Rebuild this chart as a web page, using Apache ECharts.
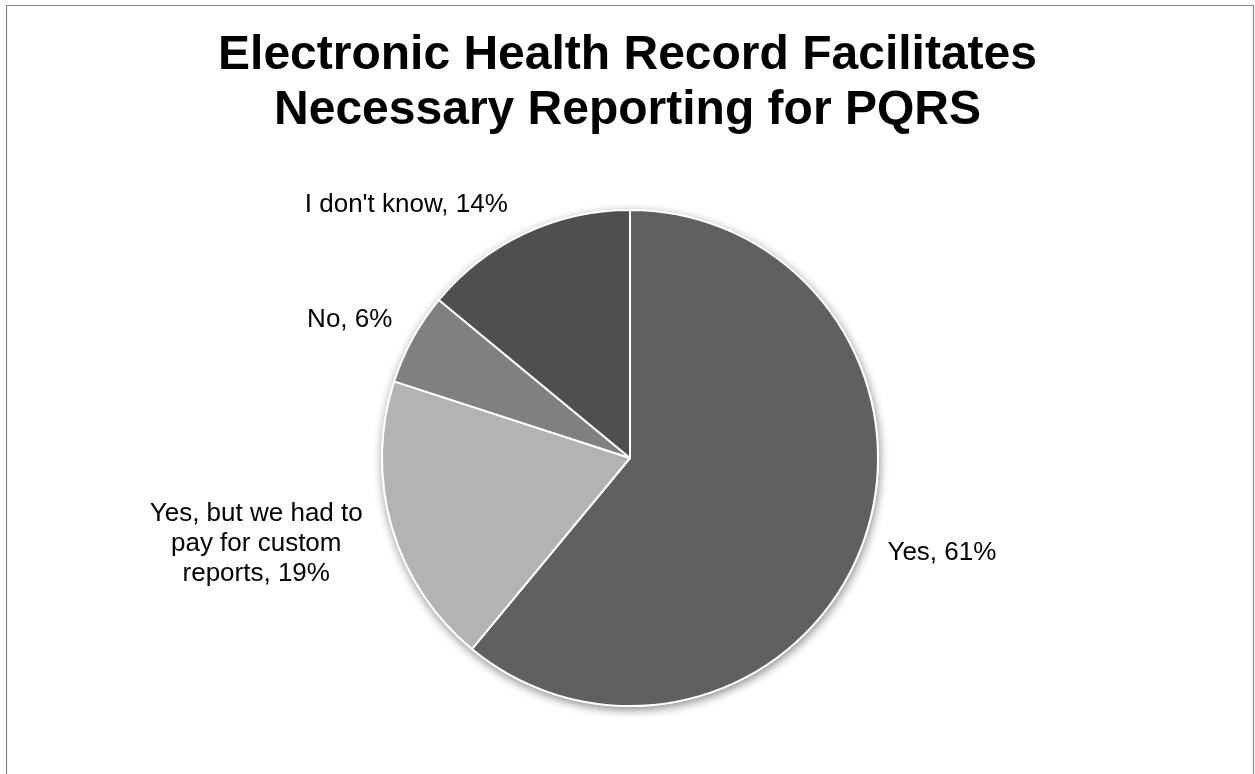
<!DOCTYPE html>
<html>
<head>
<meta charset="utf-8">
<script src="https://cdn.jsdelivr.net/npm/echarts@6/dist/echarts.min.js"></script>
<style>
  html, body { margin: 0; padding: 0; background: #fff; }
  #chart { width: 1255px; height: 774px; }
</style>
</head>
<body>
<div id="chart"></div>
<script>
// Survey answers, clockwise from 12 o'clock
const titleLines = ['Electronic Health Record Facilitates', 'Necessary Reporting for PQRS'];
const categories = ['Yes', 'Yes, but we had to pay for custom reports', 'No', "I don't know"];
const shares = [61, 19, 6, 14];

// Slice fills, in the same order as the categories
const sliceColors = ['#606060', '#b3b3b3', '#808080', '#4f4f4f'];
// Reach of each (hidden) label leader: [length, length2]
const labelReach = [[32, -6], [60, -30], [38, -13], [32, 3]];

const FONT = '"Liberation Sans", Arial, Helvetica, sans-serif';
const CENTER = [630, 458];
const RADIUS = 248;

// Break a label into lines of at most maxChars characters
function wrapWords(text, maxChars) {
  const words = text.split(' ');
  const lines = [];
  let cur = '';
  words.forEach(w => {
    const next = cur ? cur + ' ' + w : w;
    if (next.length > maxChars && cur) {
      lines.push(cur);
      cur = w;
    } else {
      cur = next;
    }
  });
  if (cur) lines.push(cur);
  return lines;
}

const chart = echarts.init(document.getElementById('chart'), null, { renderer: 'canvas' });

chart.setOption({
  backgroundColor: '#ffffff',
  animation: false,
  title: {
    text: titleLines.join('\n'),
    left: 'center',
    top: 28,
    padding: [0, 0, 0, 7],
    textStyle: {
      fontFamily: FONT,
      fontSize: 48,
      fontWeight: 'bold',
      color: '#000',
      lineHeight: 55
    }
  },
  graphic: [
    {
      type: 'rect',
      silent: true,
      z: 0,
      shape: { x: 6.5, y: 5.5, width: 1247, height: 820 },
      style: { fill: 'none', stroke: '#888888', lineWidth: 1.2 }
    },
    {
      // soft drop shadow under the whole pie
      type: 'circle',
      silent: true,
      z: 0,
      shape: { cx: CENTER[0], cy: CENTER[1], r: RADIUS + 1 },
      style: {
        fill: '#ffffff',
        shadowBlur: 10,
        shadowOffsetX: 1,
        shadowOffsetY: 3,
        shadowColor: 'rgba(0,0,0,0.45)'
      }
    }
  ],
  series: [
    {
      type: 'pie',
      center: CENTER,
      radius: RADIUS,
      startAngle: 90,
      clockwise: true,
      avoidLabelOverlap: false,
      silent: true,
      itemStyle: { borderColor: '#ffffff', borderWidth: 2 },
      label: {
        show: true,
        position: 'outside',
        distanceToLabelLine: 0,
        fontFamily: FONT,
        fontSize: 26,
        color: '#000',
        lineHeight: 30,
        formatter: p => {
          const lines = wrapWords(`${p.name}, ${p.value}%`, 18);
          return lines.length > 1 ? lines.map(l => `{w|${l}}`).join('\n') : lines[0];
        },
        rich: {
          w: {
            width: 216,
            align: 'center',
            fontFamily: FONT,
            fontSize: 26,
            lineHeight: 30,
            color: '#000'
          }
        }
      },
      labelLine: { show: false },
      emphasis: { disabled: true },
      data: categories.map((name, i) => ({
        name,
        value: shares[i],
        itemStyle: { color: sliceColors[i] },
        labelLine: { length: labelReach[i][0], length2: labelReach[i][1] }
      }))
    }
  ]
});
</script>
</body>
</html>
